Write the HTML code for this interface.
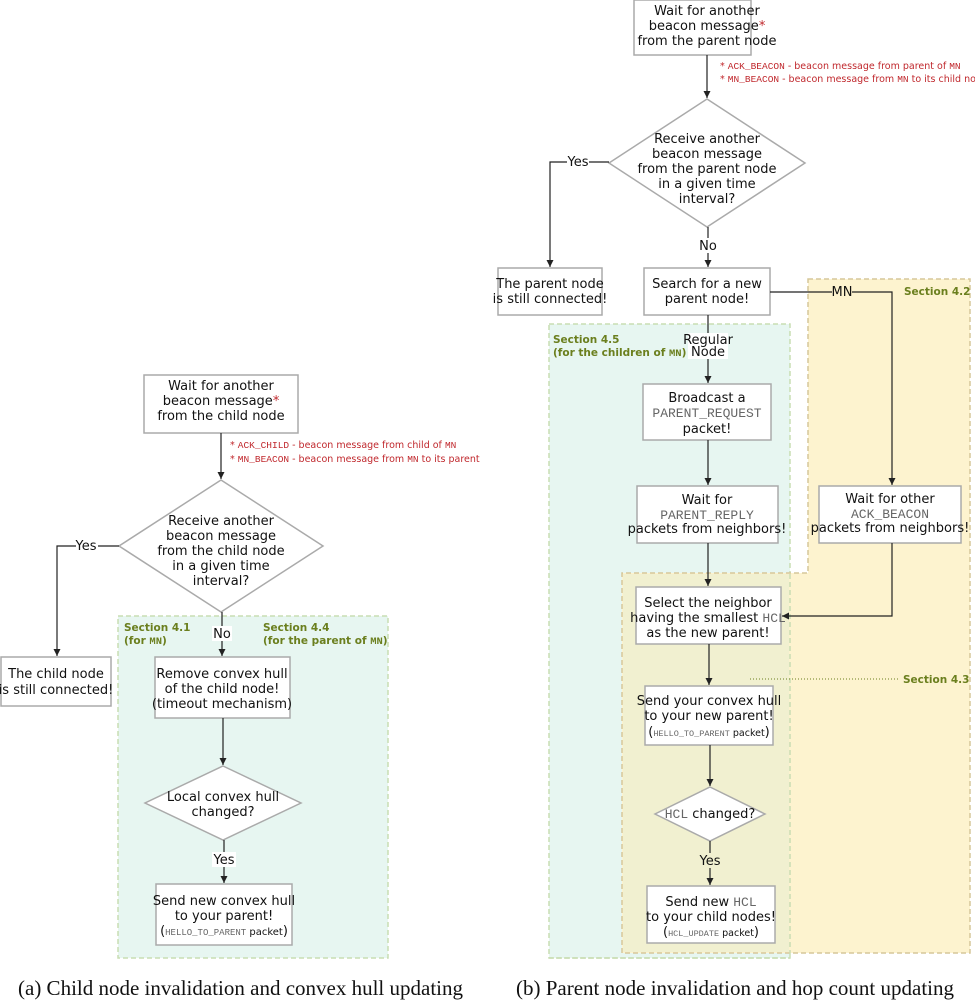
<!DOCTYPE html>
<html><head><meta charset="utf-8"><style>
body{margin:0;background:#fff}
svg{display:block}
text{font-family:"DejaVu Sans","Liberation Sans",sans-serif;font-size:13px;fill:#111}
.m{font-family:"Liberation Mono",monospace;fill:#666}
.r{fill:#c0282d;font-size:9.5px}
.rm{font-family:"Liberation Mono",monospace;fill:#c0282d;font-size:9.5px}
.s{fill:#6b7f1e;font-weight:bold;font-size:10.5px}
.cap{font-family:"Liberation Serif",serif;font-size:21px}
.b{fill:#fff;stroke:#aaa;stroke-width:1.5}
.l{stroke:#222;stroke-width:1.2;fill:none}
</style></head><body>
<svg width="975" height="1000" viewBox="0 0 975 1000">
<defs><marker id="a" markerWidth="8" markerHeight="8" refX="7" refY="4" orient="auto" markerUnits="userSpaceOnUse"><path d="M0,0.5 L7,4 L0,7.5 z" fill="#222"/></marker></defs>
<rect x="118" y="616" width="270" height="342" fill="#e7f6f1" stroke="#c9ddb3" stroke-dasharray="5,3" stroke-width="1.5"/>
<rect x="549" y="324" width="241" height="634" fill="#e7f6f1" stroke="#c9ddb3" stroke-dasharray="5,3" stroke-width="1.5"/>
<path d="M808,279 H970 V953 H622 V573 H808 Z" fill="#fdf3cf" stroke="#d6c79a" stroke-dasharray="5,3" stroke-width="1.5"/>
<rect x="623" y="574" width="166" height="378" fill="#f1f0d0"/>
<line x1="790" y1="574" x2="790" y2="958" stroke="#c9ddb3" stroke-dasharray="5,3" stroke-width="1.5"/>
<line x1="549" y1="958" x2="790" y2="958" stroke="#c9ddb3" stroke-dasharray="5,3" stroke-width="1.5"/>

<text class="s" x="124" y="631">Section 4.1</text><text class="s" x="124" y="644">(for <tspan font-family="Liberation Mono">MN</tspan>)</text>
<text class="s" x="263" y="631">Section 4.4</text><text class="s" x="263" y="644">(for the parent of <tspan font-family="Liberation Mono">MN</tspan>)</text>
<text class="s" x="553" y="343">Section 4.5</text><text class="s" x="553" y="356">(for the children of <tspan font-family="Liberation Mono">MN</tspan>)</text>
<text class="s" x="904" y="295">Section 4.2</text>
<text class="s" x="903" y="683">Section 4.3</text>
<line x1="750" y1="679" x2="900" y2="679" stroke="#6b7f1e" stroke-dasharray="1,2"/>

<rect class="b" x="144" y="375" width="154" height="58"/>
<text text-anchor="middle" x="221" y="390">Wait for another</text>
<text text-anchor="middle" x="221" y="405">beacon message<tspan fill="#c0282d">*</tspan></text>
<text text-anchor="middle" x="221" y="420">from the child node</text>
<text x="230" y="448"><tspan class="r">* </tspan><tspan class="rm">ACK_CHILD</tspan><tspan class="r"> - beacon message from child of </tspan><tspan class="rm">MN</tspan></text>
<text x="230" y="462"><tspan class="r">* </tspan><tspan class="rm">MN_BEACON</tspan><tspan class="r"> - beacon message from </tspan><tspan class="rm">MN</tspan><tspan class="r"> to its parent</tspan></text>
<line class="l" x1="221" y1="433" x2="221" y2="479" marker-end="url(#a)"/>
<polygon class="b" points="221,480 323,546 221,612 119,546"/>
<text text-anchor="middle" x="221" y="525">Receive another</text>
<text text-anchor="middle" x="221" y="540">beacon message</text>
<text text-anchor="middle" x="221" y="555">from the child node</text>
<text text-anchor="middle" x="221" y="570">in a given time</text>
<text text-anchor="middle" x="221" y="585">interval?</text>
<path class="l" d="M119,546 H57 V656" marker-end="url(#a)"/>
<rect x="76" y="538" width="22" height="15" fill="#fff"/><text text-anchor="middle" x="86" y="550">Yes</text>
<rect class="b" x="1" y="657" width="110" height="49"/>
<text text-anchor="middle" x="56" y="678">The child node</text>
<text text-anchor="middle" x="56" y="694">is still connected!</text>
<line class="l" x1="222" y1="612" x2="222" y2="656" marker-end="url(#a)"/>
<rect x="212" y="626" width="20" height="15" fill="#fff"/><text text-anchor="middle" x="222" y="638">No</text>
<rect class="b" x="155" y="657" width="135" height="61"/>
<text text-anchor="middle" x="222" y="678">Remove convex hull</text>
<text text-anchor="middle" x="222" y="693">of the child node!</text>
<text text-anchor="middle" x="222" y="708">(timeout mechanism)</text>
<line class="l" x1="223" y1="718" x2="223" y2="765" marker-end="url(#a)"/>
<polygon class="b" points="223,766 301,803 223,840 145,803"/>
<text text-anchor="middle" x="223" y="801">Local convex hull</text>
<text text-anchor="middle" x="223" y="816">changed?</text>
<line class="l" x1="224" y1="840" x2="224" y2="883" marker-end="url(#a)"/>
<rect x="212" y="852" width="24" height="15" fill="#fff"/><text text-anchor="middle" x="224" y="864">Yes</text>
<rect class="b" x="156" y="884" width="136" height="61"/>
<text text-anchor="middle" x="224" y="905">Send new convex hull</text>
<text text-anchor="middle" x="224" y="920">to your parent!</text>
<text text-anchor="middle" x="224" y="935">(<tspan class="m" font-size="9">HELLO_TO_PARENT</tspan><tspan font-size="10"> packet</tspan>)</text>

<rect class="b" x="634" y="0" width="117" height="55"/>
<text text-anchor="middle" x="707" y="15">Wait for another</text>
<text text-anchor="middle" x="707" y="30">beacon message<tspan fill="#c0282d">*</tspan></text>
<text text-anchor="middle" x="707" y="45">from the parent node</text>
<text x="720" y="69"><tspan class="r">* </tspan><tspan class="rm">ACK_BEACON</tspan><tspan class="r"> - beacon message from parent of </tspan><tspan class="rm">MN</tspan></text>
<text x="720" y="82"><tspan class="r">* </tspan><tspan class="rm">MN_BEACON</tspan><tspan class="r"> - beacon message from </tspan><tspan class="rm">MN</tspan><tspan class="r"> to its child nodes</tspan></text>
<line class="l" x1="707" y1="55" x2="707" y2="98" marker-end="url(#a)"/>
<polygon class="b" points="707,99 805,163 707,227 609,163"/>
<text text-anchor="middle" x="707" y="143">Receive another</text>
<text text-anchor="middle" x="707" y="158">beacon message</text>
<text text-anchor="middle" x="707" y="173">from the parent node</text>
<text text-anchor="middle" x="707" y="188">in a given time</text>
<text text-anchor="middle" x="707" y="203">interval?</text>
<path class="l" d="M609,162 H550 V267" marker-end="url(#a)"/>
<rect x="567" y="154" width="22" height="15" fill="#fff"/><text text-anchor="middle" x="578" y="166">Yes</text>
<rect class="b" x="498" y="268" width="104" height="47"/>
<text text-anchor="middle" x="550" y="288">The parent node</text>
<text text-anchor="middle" x="550" y="303">is still connected!</text>
<line class="l" x1="708" y1="227" x2="708" y2="267" marker-end="url(#a)"/>
<rect x="698" y="238" width="20" height="15" fill="#fff"/><text text-anchor="middle" x="708" y="250">No</text>
<rect class="b" x="644" y="268" width="126" height="47"/>
<text text-anchor="middle" x="707" y="288">Search for a new</text>
<text text-anchor="middle" x="707" y="303">parent node!</text>
<line class="l" x1="708" y1="315" x2="708" y2="383" marker-end="url(#a)"/>
<rect x="688" y="333" width="40" height="26" fill="#fff"/>
<text text-anchor="middle" x="708" y="344" font-size="9.5">Regular</text>
<text text-anchor="middle" x="708" y="356" font-size="9.5">Node</text>
<path class="l" d="M770,292 H892 V485" marker-end="url(#a)"/>
<rect x="832" y="285" width="20" height="14" fill="#fdf3cf"/><text text-anchor="middle" x="842" y="296" font-family="Liberation Mono" font-size="12">MN</text>
<rect class="b" x="643" y="384" width="128" height="56"/>
<text text-anchor="middle" x="707" y="402">Broadcast a</text>
<text text-anchor="middle" x="707" y="417" class="m" font-size="11">PARENT_REQUEST</text>
<text text-anchor="middle" x="707" y="433">packet!</text>
<line class="l" x1="708" y1="440" x2="708" y2="485" marker-end="url(#a)"/>
<rect class="b" x="637" y="486" width="141" height="57"/>
<text text-anchor="middle" x="707" y="504">Wait for</text>
<text text-anchor="middle" x="707" y="519" class="m" font-size="11">PARENT_REPLY</text>
<text text-anchor="middle" x="707" y="533" font-size="12.5">packets from neighbors!</text>
<rect class="b" x="819" y="486" width="142" height="57"/>
<text text-anchor="middle" x="890" y="503">Wait for other</text>
<text text-anchor="middle" x="890" y="518" class="m" font-size="11">ACK_BEACON</text>
<text text-anchor="middle" x="890" y="532" font-size="12.5">packets from neighbors!</text>
<line class="l" x1="708" y1="543" x2="708" y2="586" marker-end="url(#a)"/>
<path class="l" d="M892,543 V616 H782" marker-end="url(#a)"/>
<rect class="b" x="636" y="587" width="145" height="57"/>
<text text-anchor="middle" x="708" y="607">Select the neighbor</text>
<text text-anchor="middle" x="708" y="622" font-size="12.5">having the smallest <tspan class="m">HCL</tspan></text>
<text text-anchor="middle" x="708" y="637">as the new parent!</text>
<line class="l" x1="709" y1="644" x2="709" y2="685" marker-end="url(#a)"/>
<rect class="b" x="645" y="686" width="128" height="59"/>
<text text-anchor="middle" x="709" y="705" font-size="12.5">Send your convex hull</text>
<text text-anchor="middle" x="709" y="720">to your new parent!</text>
<text text-anchor="middle" x="709" y="736">(<tspan class="m" font-size="8.5">HELLO_TO_PARENT</tspan><tspan font-size="9.5"> packet</tspan>)</text>
<line class="l" x1="710" y1="745" x2="710" y2="786" marker-end="url(#a)"/>
<polygon class="b" points="710,787 765,814 710,841 655,814"/>
<text text-anchor="middle" x="710" y="818"><tspan class="m">HCL</tspan> changed?</text>
<line class="l" x1="710" y1="841" x2="710" y2="885" marker-end="url(#a)"/>
<rect x="698" y="853" width="24" height="15" fill="#f1f0d0"/><text text-anchor="middle" x="710" y="865">Yes</text>
<rect class="b" x="647" y="886" width="128" height="57"/>
<text text-anchor="middle" x="711" y="906">Send new <tspan class="m">HCL</tspan></text>
<text text-anchor="middle" x="711" y="921">to your child nodes!</text>
<text text-anchor="middle" x="711" y="936">(<tspan class="m" font-size="8.5">HCL_UPDATE</tspan><tspan font-size="9.5"> packet</tspan>)</text>

<text class="cap" x="18" y="995">(a)  Child node invalidation and convex hull updating</text>
<text class="cap" x="516" y="995">(b)  Parent node invalidation and hop count updating</text>
</svg>
</body></html>
